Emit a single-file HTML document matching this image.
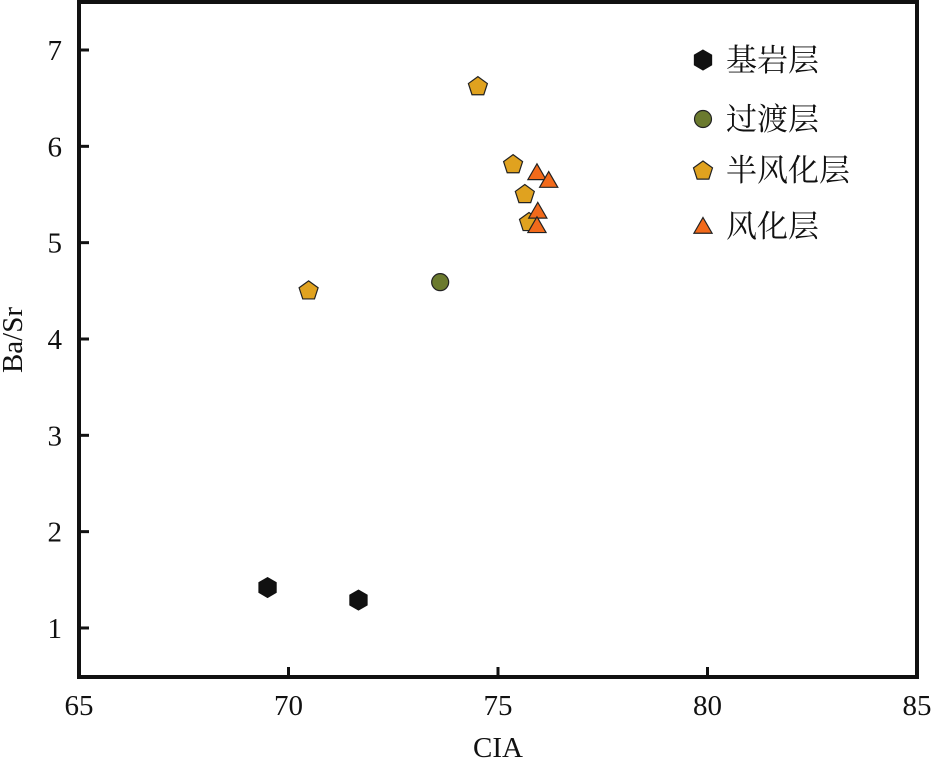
<!DOCTYPE html>
<html><head><meta charset="utf-8"><style>
body{margin:0;background:#fff}
svg text{font-family:"Liberation Serif","Noto Serif CJK SC",serif;fill:#111}
</style></head><body>
<svg id="chart" width="935" height="762">
<g id="axes"></g><g id="marks"></g><g id="legend"></g>
</svg>
<script>
const xTicks=[65,70,75,80,85];
const yTicks=[1,2,3,4,5,6,7];
const bedrockX=[69.5,71.67];
const bedrockY=[1.42,1.29];
const transX=[73.62];
const transY=[4.59];
const semiX=[70.48,74.52,75.36,75.64,75.74];
const semiY=[4.51,6.63,5.82,5.51,5.22];
const weathX=[75.93,76.21,75.95,75.93];
const weathY=[5.73,5.65,5.33,5.18];
const seriesNames=["基岩层","过渡层","半风化层","风化层"];
const L=79,R=917,T=2,B=677;
const sx=v=>L+(v-65)/(85-65)*(R-L);
const sy=v=>50+(7-v)*96.33;
const NS="http://www.w3.org/2000/svg";
function mk(p,tag,at){const e=document.createElementNS(NS,tag);for(const k in at)e.setAttribute(k,at[k]);p.appendChild(e);return e;}
const axes=document.getElementById('axes'),marks=document.getElementById('marks'),leg=document.getElementById('legend');
const frame=mk(axes,'rect',{x:L,y:T,width:R-L,height:B-T,fill:'none',stroke:'#111','stroke-width':4});


xTicks.forEach(v=>{
 const t=mk(axes,'line',{x1:sx(v),x2:sx(v),y1:B,y2:B-10,stroke:'#111','stroke-width':3});
 
 
 const l=mk(axes,'text',{x:sx(v),y:715,'text-anchor':'middle','font-size':29});
 l.textContent=v;
 
 
});
yTicks.forEach(v=>{
 const t=mk(axes,'line',{x1:L,x2:L+10,y1:sy(v),y2:sy(v),stroke:'#111','stroke-width':3});
 
 
 const l=mk(axes,'text',{x:62,y:sy(v)+10,'text-anchor':'end','font-size':29});
 l.textContent=v;
 
 
});
const xt=mk(axes,'text',{x:498,y:757,'text-anchor':'middle','font-size':29});xt.textContent='CIA';


const yt=mk(axes,'text',{x:0,y:0,'text-anchor':'middle','font-size':29,transform:'translate(22,340) rotate(-90)'});yt.textContent='Ba/Sr';


function poly(n,r,rot){const pts=[];for(let i=0;i<n;i++){const a=rot+i*2*Math.PI/n;pts.push([r*Math.cos(a),r*Math.sin(a)]);}return pts;}
function shape(p,kind,cx,cy,s){
 let e;
 if(kind===0){e=mk(p,'polygon',{points:poly(6,s,-Math.PI/2).map(q=>(cx+q[0])+','+(cy+q[1])).join(' '),fill:'#111',stroke:'#111'});}
 else if(kind===1){e=mk(p,'circle',{cx:cx,cy:cy,r:s*0.85,fill:'#6b7a2e',stroke:'#222','stroke-width':1.2});}
 else if(kind===2){e=mk(p,'polygon',{points:poly(5,s,-Math.PI/2).map(q=>(cx+q[0])+','+(cy+q[1]+1)).join(' '),fill:'#e0a21f',stroke:'#222','stroke-width':1.2});}
 else {e=mk(p,'polygon',{points:poly(3,s*1.05,-Math.PI/2).map(q=>(cx+q[0])+','+(cy+q[1]+2)).join(' '),fill:'#f26a1b',stroke:'#222','stroke-width':1.2});}
 return e;
}
const sets=[[bedrockX,bedrockY],[transX,transY],[semiX,semiY],[weathX,weathY]];
const nm=['bedrock-point','transition-point','semi-weathered-point','weathered-point'];
sets.forEach((s,k)=>{s[0].forEach((x,i)=>{
 const e=shape(marks,k,sx(x),sy(s[1][i]),10);
 
 
});});
const ly=[60,119,170,226];
seriesNames.forEach((n,k)=>{
 const e=shape(leg,k,703,ly[k],10);
 
 
 const t=mk(leg,'text',{x:726,y:ly[k]+11,'font-size':31});t.textContent=n;
 
 
});
</script>
</body></html>
